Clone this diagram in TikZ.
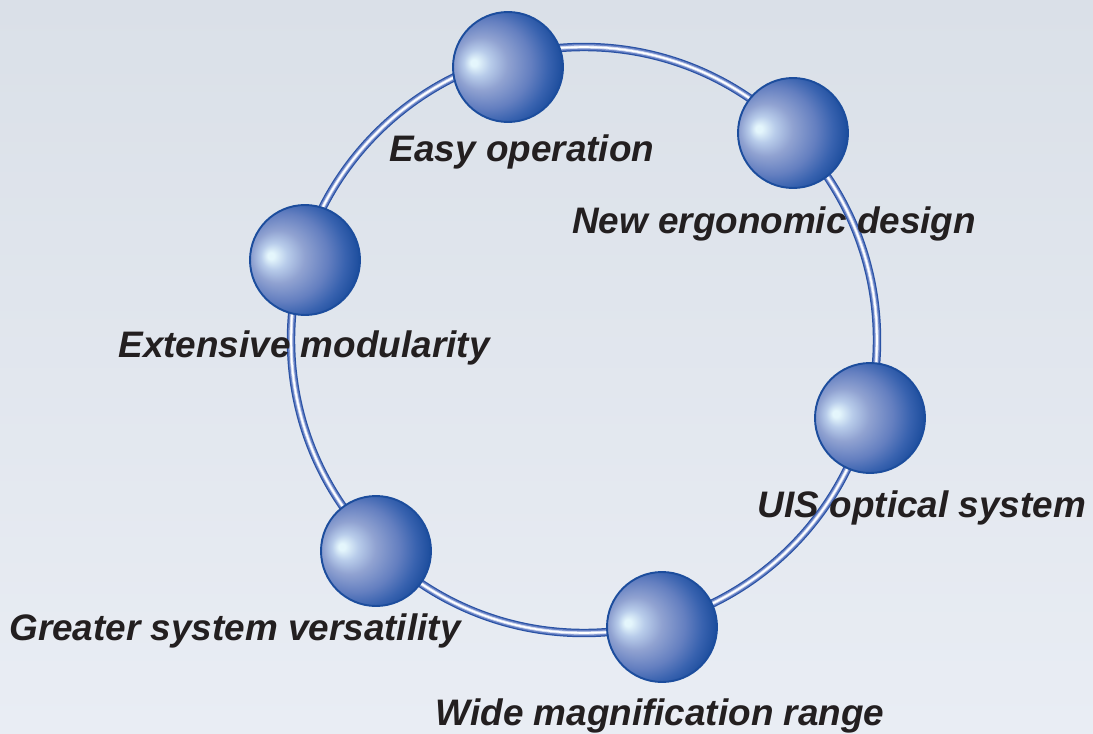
\documentclass[tikz,border=0pt]{standalone}
\usepackage{fontspec}
\setmainfont{Liberation Sans}

\definecolor{bgtop}{HTML}{DAE0E8}
\definecolor{bgbot}{HTML}{E9EDF4}
\definecolor{ringblue}{HTML}{2A52A4}
\definecolor{ringmid}{HTML}{6680C4}
\definecolor{ringlight}{HTML}{C8D2EE}
\definecolor{ballhi}{HTML}{E4F6FC}
\definecolor{balllight}{HTML}{B8CCEA}
\definecolor{ballmid}{HTML}{90A2D1}
\definecolor{ballsoft}{HTML}{647FC0}
\definecolor{balldeep}{HTML}{3862AF}
\definecolor{balldark}{HTML}{1C4D9D}
\definecolor{labeltext}{HTML}{231F20}

\pgfdeclareradialshading{sphere}{\pgfpoint{-16bp}{2bp}}{color(0bp)=(ballhi); color(1.5bp)=(ballhi); color(6bp)=(balllight); color(12bp)=(ballmid); color(20bp)=(ballsoft); color(26bp)=(balldeep); color(31bp)=(balldark); color(50bp)=(balldark)}

\tikzset{
  ball/.style={circle, minimum size=2.2cm, inner sep=0pt, shading=sphere,
    draw=balldark, line width=1.1pt},
  lbl/.style={anchor=base, inner sep=0pt, text=labeltext,
    font=\fontsize{21pt}{25pt}\selectfont\bfseries\itshape}
}

\begin{document}
\begin{tikzpicture}[x=0.02cm,y=-0.02cm]
\shade[top color=bgtop, bottom color=bgbot] (0,0) rectangle (1093,734);
\useasboundingbox (0,0) rectangle (1093,734);

\coordinate (o) at (584,340);
\draw[ringblue, line width=4.8pt] (o) circle [radius=293];
\draw[ringmid, line width=3.4pt] (o) circle [radius=293];
\draw[ringlight, line width=1.9pt] (o) circle [radius=293];
\draw[white, line width=0.9pt] (o) circle [radius=293];

\node[ball] (a) at (508,67) {};
\node[ball] (b) at (793,133) {};
\node[ball] (c) at (870,418) {};
\node[ball] (d) at (662,627) {};
\node[ball] (e) at (376,551) {};
\node[ball] (f) at (305,260) {};

\node[lbl] (la) at (522,161) {Easy operation};
\node[lbl] (lb) at (774,233) {New ergonomic design};
\node[lbl] (lc) at (922,517) {UIS optical system};
\node[lbl] (ld) at (660,725) {Wide magnification range};
\node[lbl] (le) at (235,640) {Greater system versatility};
\node[lbl] (lf) at (304,357) {Extensive modularity};
\end{tikzpicture}
\end{document}
